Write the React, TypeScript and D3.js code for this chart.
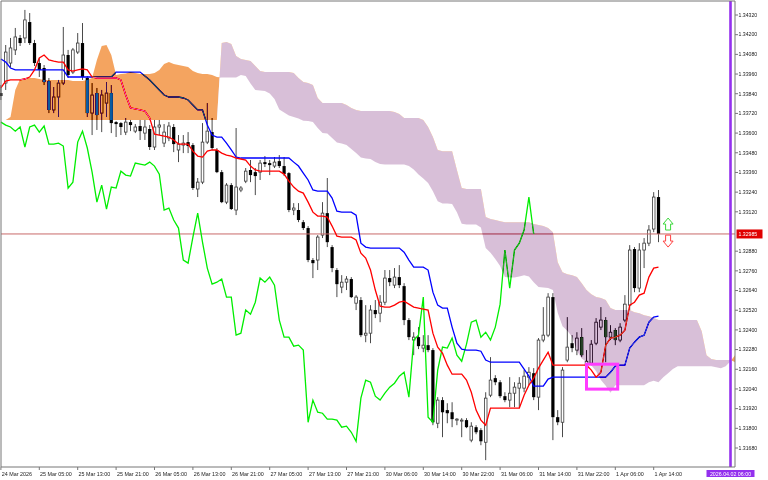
import React from "react";
import * as d3 from "d3";

const W = 768;
const H = 480;
const plot = { left: 1, top: 1, right: 735, bottom: 467 };

const timeLabels = [
  { bar: 0, label: "24 Mar 2026" },
  { bar: 8, label: "25 Mar 05:00" },
  { bar: 16, label: "25 Mar 13:00" },
  { bar: 24, label: "25 Mar 21:00" },
  { bar: 32, label: "26 Mar 05:00" },
  { bar: 40, label: "26 Mar 13:00" },
  { bar: 48, label: "26 Mar 21:00" },
  { bar: 56, label: "27 Mar 05:00" },
  { bar: 64, label: "27 Mar 13:00" },
  { bar: 72, label: "27 Mar 21:00" },
  { bar: 80, label: "30 Mar 06:00" },
  { bar: 88, label: "30 Mar 14:00" },
  { bar: 96, label: "30 Mar 22:00" },
  { bar: 104, label: "31 Mar 06:00" },
  { bar: 112, label: "31 Mar 14:00" },
  { bar: 120, label: "31 Mar 22:00" },
  { bar: 128, label: "1 Apr 06:00" },
  { bar: 136, label: "1 Apr 14:00" },
];

const priceTicks = [
  1.3432, 1.342, 1.3408, 1.3396, 1.3384, 1.3372, 1.336, 1.3348, 1.3336, 1.3324, 1.3312, 1.33,
  1.3288, 1.3276, 1.3264, 1.3252, 1.324, 1.3228, 1.3216, 1.3204, 1.3192, 1.318, 1.3168,
];

const open = [
  1.33844, 1.33905, 1.34027, 1.34107, 1.3418, 1.3418, 1.34277, 1.34149, 1.34027, 1.33997,
  1.33917, 1.33741, 1.3382, 1.33905, 1.34076, 1.33972, 1.34094, 1.34149, 1.33936, 1.33722,
  1.33844, 1.33722, 1.33783, 1.33844, 1.33667, 1.33661, 1.33606, 1.33667, 1.33612, 1.33643,
  1.336, 1.33625, 1.33515, 1.33637, 1.33539, 1.3357, 1.33637, 1.33497, 1.33527, 1.33545,
  1.33527, 1.33259, 1.33301, 1.33545, 1.33606, 1.33497, 1.33362, 1.33179, 1.33283, 1.33131,
  1.33253, 1.33307, 1.33375, 1.33362, 1.33362, 1.33423, 1.33417, 1.33399, 1.33429, 1.33399,
  1.33356, 1.33131, 1.33131, 1.33057, 1.33021, 1.32826, 1.32826, 1.32978, 1.33112, 1.32905,
  1.32765, 1.32661, 1.32691, 1.3271, 1.32563, 1.32582, 1.32368, 1.3238, 1.32521, 1.32502,
  1.32569, 1.32716, 1.32673, 1.32722, 1.32667, 1.3246, 1.32338, 1.32356, 1.32289, 1.32307,
  1.32277, 1.31831, 1.31972, 1.31911, 1.31898, 1.3185, 1.3185, 1.3185, 1.31728, 1.31807,
  1.31789, 1.31715, 1.32002, 1.32106, 1.32081, 1.31996, 1.31972, 1.32014, 1.32045, 1.32045,
  1.32112, 1.32136, 1.3199, 1.32338, 1.32368, 1.326, 1.31868, 1.31837, 1.32216, 1.32319,
  1.32277, 1.32356, 1.32185, 1.32197, 1.32319, 1.32417, 1.3246, 1.32356, 1.32399, 1.32338,
  1.3246, 1.32551, 1.32893, 1.32655, 1.32887, 1.32929, 1.33015, 1.3321,
];

const high = [
  1.33893, 1.34137, 1.3418, 1.34241, 1.34198, 1.34351, 1.34332, 1.34168, 1.34058, 1.34015,
  1.33936, 1.33881, 1.33924, 1.34247, 1.34107, 1.34119, 1.3421, 1.34271, 1.33948, 1.33905,
  1.33875, 1.33863, 1.33911, 1.33893, 1.33673, 1.33667, 1.33692, 1.3368, 1.33655, 1.3368,
  1.3368, 1.33649, 1.3368, 1.3368, 1.33655, 1.33667, 1.33655, 1.33588, 1.33588, 1.33606,
  1.33539, 1.33326, 1.33661, 1.33783, 1.33692, 1.33509, 1.33375, 1.33295, 1.33295, 1.33631,
  1.33277, 1.33387, 1.33436, 1.33387, 1.33436, 1.3346, 1.33436, 1.33454, 1.33466, 1.33454,
  1.33362, 1.33173, 1.33173, 1.3307, 1.33033, 1.32838, 1.32978, 1.33179, 1.33326, 1.32917,
  1.32777, 1.32734, 1.32728, 1.32722, 1.32612, 1.326, 1.32551, 1.32551, 1.32582, 1.32612,
  1.32765, 1.32765, 1.32777, 1.32795, 1.32685, 1.32472, 1.32386, 1.32417, 1.32368, 1.32368,
  1.32289, 1.3199, 1.3199, 1.31953, 1.31959, 1.31862, 1.31862, 1.31862, 1.31837, 1.31819,
  1.31801, 1.3202, 1.32234, 1.32124, 1.32094, 1.3202, 1.32112, 1.32081, 1.32112, 1.32155,
  1.32173, 1.32167, 1.3235, 1.32539, 1.32624, 1.32624, 1.31911, 1.32173, 1.32478, 1.32368,
  1.32386, 1.32411, 1.32277, 1.32338, 1.32472, 1.32539, 1.32478, 1.32429, 1.32411, 1.32441,
  1.32612, 1.32917, 1.32905, 1.32929, 1.3296, 1.33039, 1.3324, 1.33253,
];

const low = [
  1.33802, 1.33863, 1.34003, 1.34076, 1.34131, 1.34149, 1.34137, 1.34009, 1.33942, 1.33893,
  1.33722, 1.33722, 1.33698, 1.33893, 1.33936, 1.3396, 1.34082, 1.33924, 1.33698, 1.33588,
  1.33619, 1.33606, 1.33698, 1.336, 1.33576, 1.33588, 1.33588, 1.33612, 1.336, 1.33558,
  1.33558, 1.33497, 1.33497, 1.33588, 1.33515, 1.33551, 1.33484, 1.33423, 1.33478, 1.33478,
  1.33253, 1.3321, 1.33289, 1.33533, 1.33497, 1.33356, 1.33173, 1.33167, 1.33131, 1.331,
  1.3324, 1.33295, 1.33301, 1.33222, 1.33314, 1.33393, 1.33344, 1.33387, 1.33387, 1.33338,
  1.33118, 1.331, 1.33057, 1.33009, 1.32813, 1.32716, 1.32765, 1.3296, 1.32905, 1.32752,
  1.326, 1.32624, 1.32643, 1.32594, 1.32521, 1.32356, 1.32325, 1.32319, 1.32472, 1.32447,
  1.32551, 1.32667, 1.32655, 1.32655, 1.32429, 1.32338, 1.32246, 1.32283, 1.32264, 1.32264,
  1.31819, 1.31801, 1.31746, 1.31831, 1.31807, 1.31819, 1.31746, 1.31801, 1.31715, 1.31764,
  1.31697, 1.31606, 1.3199, 1.32063, 1.31984, 1.31959, 1.31929, 1.31929, 1.31923, 1.3202,
  1.32063, 1.31972, 1.31911, 1.32325, 1.32356, 1.31728, 1.31819, 1.31746, 1.32203, 1.32264,
  1.32246, 1.32234, 1.32167, 1.32185, 1.32307, 1.32399, 1.32203, 1.32338, 1.32307, 1.32325,
  1.32447, 1.32521, 1.3263, 1.3263, 1.32777, 1.32911, 1.32996, 1.32935,
];

const close = [
  1.33826, 1.34094, 1.34119, 1.34186, 1.34149, 1.3429, 1.34149, 1.34027, 1.33985, 1.33911,
  1.33741, 1.3382, 1.33905, 1.34076, 1.33954, 1.34107, 1.34149, 1.33942, 1.33722, 1.33832,
  1.3371, 1.33832, 1.33844, 1.33661, 1.33655, 1.33637, 1.33667, 1.33649, 1.33637, 1.33612,
  1.33637, 1.33515, 1.33637, 1.33649, 1.33606, 1.33643, 1.33533, 1.33533, 1.33539, 1.33521,
  1.33265, 1.33301, 1.33545, 1.33612, 1.33509, 1.33362, 1.33179, 1.33283, 1.33137, 1.33271,
  1.33265, 1.33368, 1.33344, 1.33338, 1.33417, 1.33411, 1.33405, 1.33423, 1.33399, 1.3335,
  1.33131, 1.33143, 1.3307, 1.33021, 1.32826, 1.32807, 1.32966, 1.33112, 1.32935, 1.32777,
  1.32679, 1.32691, 1.3271, 1.326, 1.326, 1.32368, 1.3238, 1.32521, 1.32496, 1.32569,
  1.32716, 1.32691, 1.32722, 1.32673, 1.3246, 1.32356, 1.32356, 1.32301, 1.32307, 1.32277,
  1.31837, 1.31972, 1.31898, 1.31892, 1.31856, 1.31856, 1.3185, 1.31807, 1.31813, 1.31776,
  1.31721, 1.31984, 1.32094, 1.32081, 1.31996, 1.31972, 1.32014, 1.32051, 1.32075, 1.32118,
  1.32142, 1.3199, 1.32338, 1.32368, 1.326, 1.31868, 1.31837, 1.32155, 1.32295, 1.32289,
  1.3235, 1.32246, 1.32209, 1.32313, 1.32447, 1.3246, 1.32356, 1.32386, 1.32338, 1.32417,
  1.32557, 1.32887, 1.32655, 1.32887, 1.32929, 1.33009, 1.3321, 1.32985,
];

const tenkan = [
  1.33875, 1.33917, 1.33924, 1.33924, 1.33924, 1.3393, 1.33942, 1.33985, 1.34058, 1.34076,
  1.34046, 1.34039, 1.34033, 1.34033, 1.33985, 1.33978, 1.33985, 1.33991, 1.33985, 1.33942,
  1.33936, 1.33936, 1.33936, 1.33936, 1.33936, 1.33924, 1.33832, 1.33753, 1.33747, 1.33741,
  1.33734, 1.33692, 1.33594, 1.33588, 1.33582, 1.33576, 1.33558, 1.33533, 1.33533, 1.33533,
  1.3349, 1.3346, 1.33454, 1.3349, 1.33497, 1.33497, 1.33478, 1.33466, 1.3346, 1.33448,
  1.33442, 1.33436, 1.33399, 1.33375, 1.33368, 1.33368, 1.33368, 1.33368, 1.33368, 1.3335,
  1.33307, 1.33271, 1.33246, 1.33234, 1.33179, 1.33118, 1.33094, 1.33094, 1.33088, 1.33033,
  1.32972, 1.32966, 1.32966, 1.32966, 1.32948, 1.32868, 1.32838, 1.32765, 1.32643, 1.32545,
  1.32539, 1.32539, 1.32551, 1.32569, 1.32575, 1.32557, 1.32539, 1.32533, 1.32527, 1.32521,
  1.3238, 1.32295, 1.32258, 1.32185, 1.3213, 1.3213, 1.3213, 1.32094, 1.3202, 1.31911,
  1.3185, 1.31819, 1.31923, 1.31923, 1.31923, 1.31923, 1.31923, 1.31923, 1.31923, 1.32002,
  1.32063, 1.32106, 1.32167, 1.32216, 1.32264, 1.32185, 1.32185, 1.32185, 1.32185, 1.32185,
  1.32185, 1.32185, 1.32185, 1.32155, 1.32112, 1.32142, 1.32307, 1.3235, 1.32356, 1.32368,
  1.32399, 1.32551, 1.32569, 1.32612, 1.32624, 1.32722, 1.32777, 1.32783,
];

const kijun = [
  1.34052, 1.34033, 1.33997, 1.33985, 1.33985, 1.33985, 1.33985, 1.33985, 1.33985, 1.33985,
  1.33985, 1.33985, 1.33985, 1.33985, 1.33942, 1.33942, 1.33942, 1.33942, 1.33942, 1.33942,
  1.33942, 1.33942, 1.33942, 1.33942, 1.33972, 1.33972, 1.33972, 1.33972, 1.33972, 1.33972,
  1.33948, 1.33924, 1.33893, 1.33863, 1.33832, 1.3382, 1.3382, 1.3382, 1.33814, 1.33802,
  1.33771, 1.33741, 1.33741, 1.33649, 1.33588, 1.33576, 1.33576, 1.33539, 1.33497, 1.33454,
  1.33448, 1.33448, 1.33448, 1.33448, 1.33448, 1.33448, 1.33448, 1.33448, 1.33448, 1.33448,
  1.33448, 1.33423, 1.33399, 1.33356, 1.33314, 1.33253, 1.33246, 1.33246, 1.33246, 1.33204,
  1.33124, 1.33118, 1.33118, 1.33118, 1.331, 1.32929, 1.32905, 1.32899, 1.32899, 1.32899,
  1.32899, 1.32899, 1.32899, 1.32899, 1.32874, 1.32826, 1.32783, 1.32783, 1.32783, 1.32765,
  1.3263, 1.32551, 1.32533, 1.32533, 1.32417, 1.32319, 1.32283, 1.32277, 1.32277, 1.32277,
  1.3227, 1.32216, 1.32203, 1.32203, 1.32203, 1.32203, 1.32203, 1.32203, 1.32203, 1.32161,
  1.32118, 1.32057, 1.32057, 1.32057, 1.321, 1.32112, 1.32112, 1.32112, 1.32112, 1.32112,
  1.32112, 1.32112, 1.32112, 1.32112, 1.32112, 1.32112, 1.32112, 1.32142, 1.32179, 1.32185,
  1.32185, 1.32289, 1.32325, 1.32356, 1.32368, 1.32447, 1.32478, 1.32484,
];

const spanA = [
  1.3368, 1.3368, 1.33698, 1.33863, 1.3393, 1.33936, 1.33936, 1.33936, 1.3393, 1.33924,
  1.33924, 1.33924, 1.33924, 1.33924, 1.33924, 1.33917, 1.33917, 1.33917, 1.33924, 1.33936,
  1.34046, 1.34131, 1.34137, 1.34076, 1.33954, 1.3396, 1.33963, 1.33972, 1.33966, 1.3396,
  1.3396, 1.3396, 1.33966, 1.33985, 1.34021, 1.34033, 1.34021, 1.34015, 1.34009, 1.34003,
  1.33978, 1.33966, 1.3396, 1.3396, 1.33954, 1.33942, 1.33939, 1.33939, 1.33939, 1.33939,
  1.33954, 1.33948, 1.33902, 1.33863, 1.33859, 1.33856, 1.33841, 1.33808, 1.33744, 1.33725,
  1.33707, 1.33698, 1.33689, 1.33676, 1.33673, 1.33667, 1.33631, 1.336, 1.33597, 1.3357,
  1.33542, 1.33536, 1.33527, 1.33503, 1.33478, 1.33451, 1.33445, 1.33442, 1.33423, 1.33411,
  1.33408, 1.33408, 1.33408, 1.33408, 1.33408, 1.33399, 1.33378, 1.33347, 1.33323, 1.33295,
  1.33246, 1.33185, 1.3317, 1.3317, 1.33167, 1.33118, 1.33048, 1.33042, 1.33042, 1.33042,
  1.33024, 1.32899, 1.32871, 1.32832, 1.32789, 1.32722, 1.32719, 1.32719, 1.32725, 1.32734,
  1.32725, 1.32691, 1.32661, 1.32658, 1.32655, 1.32643, 1.32505, 1.32423, 1.32395, 1.32359,
  1.32273, 1.32225, 1.32206, 1.32185, 1.32148, 1.32094, 1.3206, 1.32017, 1.32063, 1.32063,
  1.32063, 1.32063, 1.32063, 1.32063, 1.32063, 1.32081, 1.3209, 1.32081, 1.32112, 1.32136,
  1.32161, 1.32179, 1.32179, 1.32179, 1.32179, 1.32179, 1.32179, 1.32179, 1.32179, 1.32173,
  1.32167, 1.32179, 1.32209, 1.32246,
];

const spanB = [
  1.3368, 1.3368, 1.3368, 1.3368, 1.3368, 1.3368, 1.3368, 1.3368, 1.3368, 1.3368,
  1.3368, 1.3368, 1.3368, 1.3368, 1.3368, 1.3368, 1.3368, 1.3368, 1.3368, 1.3368,
  1.3368, 1.3368, 1.3368, 1.3368, 1.3368, 1.3368, 1.3368, 1.3368, 1.3368, 1.3368,
  1.3368, 1.3368, 1.3368, 1.3368, 1.3368, 1.3368, 1.3368, 1.3368, 1.3368, 1.3368,
  1.3368, 1.3368, 1.3368, 1.3368, 1.3368, 1.3368, 1.34149, 1.34155, 1.34143, 1.3407,
  1.34052, 1.34046, 1.34039, 1.34009, 1.33978, 1.33972, 1.33972, 1.33972, 1.33972, 1.33972,
  1.33972, 1.33966, 1.33936, 1.33911, 1.33905, 1.33893, 1.33814, 1.33783, 1.33783, 1.33783,
  1.33783, 1.33783, 1.33771, 1.33753, 1.33741, 1.33734, 1.33734, 1.33734, 1.33734, 1.33734,
  1.33734, 1.33734, 1.33728, 1.33716, 1.33692, 1.33692, 1.33692, 1.33692, 1.3368, 1.33637,
  1.33576, 1.33497, 1.3349, 1.3349, 1.3349, 1.33375, 1.33265, 1.33259, 1.33259, 1.33259,
  1.33259, 1.33088, 1.33076, 1.3307, 1.33063, 1.33057, 1.33057, 1.33057, 1.33057, 1.33057,
  1.33057, 1.33045, 1.33039, 1.33033, 1.33021, 1.32996, 1.32813, 1.32752, 1.3274, 1.32734,
  1.32722, 1.32685, 1.32643, 1.32618, 1.326, 1.32594, 1.32582, 1.32533, 1.32521, 1.32521,
  1.32521, 1.32521, 1.32508, 1.32502, 1.3249, 1.32484, 1.32472, 1.3246, 1.3246, 1.3246,
  1.3246, 1.3246, 1.3246, 1.3246, 1.3246, 1.3246, 1.32392, 1.32246, 1.32222, 1.32216,
  1.32216, 1.32216, 1.32216, 1.32203,
];

const chikou = [
  1.33667, 1.33649, 1.33637, 1.33612, 1.33637, 1.33515, 1.33637, 1.33649, 1.33606, 1.33643,
  1.33533, 1.33533, 1.33539, 1.33521, 1.33265, 1.33301, 1.33545, 1.33612, 1.33509, 1.33362,
  1.33179, 1.33283, 1.33137, 1.33271, 1.33265, 1.33368, 1.33344, 1.33338, 1.33417, 1.33411,
  1.33405, 1.33423, 1.33399, 1.3335, 1.33131, 1.33143, 1.3307, 1.33021, 1.32826, 1.32807,
  1.32966, 1.33112, 1.32935, 1.32777, 1.32679, 1.32691, 1.3271, 1.326, 1.326, 1.32368,
  1.3238, 1.32521, 1.32496, 1.32569, 1.32716, 1.32691, 1.32722, 1.32673, 1.3246, 1.32356,
  1.32356, 1.32301, 1.32307, 1.32277, 1.31837, 1.31972, 1.31898, 1.31892, 1.31856, 1.31856,
  1.3185, 1.31807, 1.31813, 1.31776, 1.31721, 1.31984, 1.32094, 1.32081, 1.31996, 1.31972,
  1.32014, 1.32051, 1.32075, 1.32118, 1.32142, 1.3199, 1.32338, 1.32368, 1.326, 1.31868,
  1.31837, 1.32155, 1.32295, 1.32289, 1.3235, 1.32246, 1.32209, 1.32313, 1.32447, 1.3246,
  1.32356, 1.32386, 1.32338, 1.32417, 1.32557, 1.32887, 1.32655, 1.32887, 1.32929, 1.33009,
  1.3321, 1.32985,
];

const lastPrice = 1.32985;
const markerBar = 152;
const markerLabel = "2026.04.02 06:00";
const boxBars = [122, 128.5];
const boxPrices = [1.32191, 1.32039];
const arrowBar = 139;
const upArrow = [1.33082, 1.33009];
const downArrow = [1.32978, 1.32905];

const FONT = "'Liberation Sans', Arial, sans-serif";

export default function App() {
  const x = d3.scaleLinear().domain([0, 152]).range([0.9, 730.5]);
  const y = d3.scaleLinear().domain([1.3168, 1.3432]).range([448, 15]);
  const cx = (i: number) => Math.min(x(i), plot.right);

  const idx = d3.range(spanA.length);
  const cloudFill = d3
    .area<number>()
    .x((i) => cx(i))
    .y0((i) => y(spanB[i]))
    .y1((i) => y(spanA[i]))(idx) as string;
  const aboveB = d3
    .area<number>()
    .x((i) => cx(i))
    .y0((i) => y(spanB[i]))
    .y1(plot.top)(idx) as string;
  const belowB = d3
    .area<number>()
    .x((i) => cx(i))
    .y0((i) => y(spanB[i]))
    .y1(plot.bottom)(idx) as string;

  const mkLine = (arr: number[]) =>
    d3
      .line<number>()
      .x((_, i) => x(i))
      .y((v) => y(v))(arr) as string;

  const priceY = y(lastPrice);

  const arrowPath = (bar: number, top: number, bottom: number, up: boolean) => {
    const c = x(bar);
    const yt = y(top);
    const yb = y(bottom);
    const hw = 5;
    const sw = 2.5;
    const hh = 6;
    if (up) {
      return `M${c},${yt} L${c + hw},${yt + hh} L${c + sw},${yt + hh} L${c + sw},${yb} L${c - sw},${yb} L${c - sw},${yt + hh} L${c - hw},${yt + hh} Z`;
    }
    return `M${c},${yb} L${c + hw},${yb - hh} L${c + sw},${yb - hh} L${c + sw},${yt} L${c - sw},${yt} L${c - sw},${yb - hh} L${c - hw},${yb - hh} Z`;
  };

  return (
    <svg
      width={W}
      height={H}
      viewBox={`0 0 ${W} ${H}`}
      style={{ position: "fixed", left: 0, top: 0, display: "block", background: "#fff" }}
    >
      <defs>
        <clipPath id="clipAbove">
          <path d={aboveB} />
        </clipPath>
        <clipPath id="clipBelow">
          <path d={belowB} />
        </clipPath>
      </defs>
      <rect x={0} y={0} width={W} height={H} fill="#ffffff" />

      {/* candles */}
      {close.map((c, i) => {
        const o = open[i];
        const xc = x(i);
        const bull = c >= o;
        const yTop = y(Math.max(o, c));
        const yBot = y(Math.min(o, c));
        const h = Math.max(1, yBot - yTop);
        return (
          <g key={i}>
            <line x1={xc} x2={xc} y1={y(high[i])} y2={y(low[i])} stroke="#4a4a4a" strokeWidth={1} />
            {bull ? (
              <rect x={xc - 1.3} y={yTop} width={2.6} height={h} fill="#ffffff" stroke="#3a3a3a" strokeWidth={0.8} />
            ) : (
              <rect x={xc - 1.6} y={yTop} width={3.2} height={h} fill="#000000" />
            )}
          </g>
        );
      })}

      {/* current price line */}
      <line x1={plot.left} x2={plot.right} y1={priceY} y2={priceY} stroke="#c86a6a" strokeWidth={1} />

      {/* ichimoku lines */}
      <path d={mkLine(chikou)} fill="none" stroke="#00ee00" strokeWidth={1.3} />
      <path d={mkLine(kijun)} fill="none" stroke="#0000ff" strokeWidth={1.3} />
      <path d={mkLine(tenkan)} fill="none" stroke="#ff0000" strokeWidth={1.3} />

      {/* cloud with XOR-like blending */}
      <path d={cloudFill} fill="#0b5b9f" clipPath="url(#clipAbove)" style={{ mixBlendMode: "difference" }} />
      <path d={cloudFill} fill="#274027" clipPath="url(#clipBelow)" style={{ mixBlendMode: "difference" }} />

      {/* rectangle object */}
      <rect
        x={x(boxBars[0])}
        y={y(boxPrices[0])}
        width={x(boxBars[1]) - x(boxBars[0])}
        height={y(boxPrices[1]) - y(boxPrices[0])}
        fill="none"
        stroke="#ff3cff"
        strokeWidth={3}
      />

      {/* arrows */}
      <path d={arrowPath(arrowBar, upArrow[0], upArrow[1], true)} fill="#ffffff" stroke="#3ad83a" strokeWidth={1} />
      <path d={arrowPath(arrowBar, downArrow[0], downArrow[1], false)} fill="#ffffff" stroke="#ff4040" strokeWidth={1} />

      {/* vertical marker line */}
      <line x1={x(markerBar)} x2={x(markerBar)} y1={plot.top} y2={plot.bottom} stroke="#9430ee" strokeWidth={2.6} />

      {/* frame */}
      <line x1={plot.left} x2={plot.right} y1={plot.top} y2={plot.top} stroke="#777" strokeWidth={1} />
      <line x1={plot.left} x2={plot.left} y1={plot.top} y2={plot.bottom} stroke="#777" strokeWidth={1} />
      <line x1={plot.left} x2={plot.right} y1={plot.bottom} y2={plot.bottom} stroke="#777" strokeWidth={1} />
      <line x1={plot.right} x2={plot.right} y1={plot.top} y2={plot.bottom} stroke="#777" strokeWidth={1} />

      {/* price axis */}
      {priceTicks.map((p) => {
        const yy = y(p);
        if (Math.abs(yy - priceY) < 8) return null;
        return (
          <g key={p}>
            <line x1={plot.right} x2={plot.right + 3} y1={yy} y2={yy} stroke="#777" strokeWidth={1} />
            <text x={plot.right + 3.5} y={yy + 1.8} fontSize={5.2} fontFamily={FONT} fill="#222">
              {p.toFixed(5)}
            </text>
          </g>
        );
      })}
      <rect x={plot.right + 1.5} y={priceY - 4.5} width={26} height={9} fill="#e00000" />
      <text x={plot.right + 3.5} y={priceY + 1.8} fontSize={5.2} fontFamily={FONT} fill="#ffffff">
        {lastPrice.toFixed(5)}
      </text>

      {/* time axis */}
      {timeLabels.map((t) => (
        <g key={t.bar}>
          <line x1={x(t.bar)} x2={x(t.bar)} y1={plot.bottom} y2={plot.bottom + 3} stroke="#777" strokeWidth={1} />
          <text x={x(t.bar) + 0.8} y={475.5} fontSize={5.4} fontFamily={FONT} fill="#222">
            {t.label}
          </text>
        </g>
      ))}
      <rect x={x(markerBar) - 24} y={470} width={48} height={7} fill="#9430ee" />
      <text x={x(markerBar)} y={475.5} fontSize={5.3} fontFamily={FONT} fill="#ffffff" textAnchor="middle">
        {markerLabel}
      </text>
    </svg>
  );
}
